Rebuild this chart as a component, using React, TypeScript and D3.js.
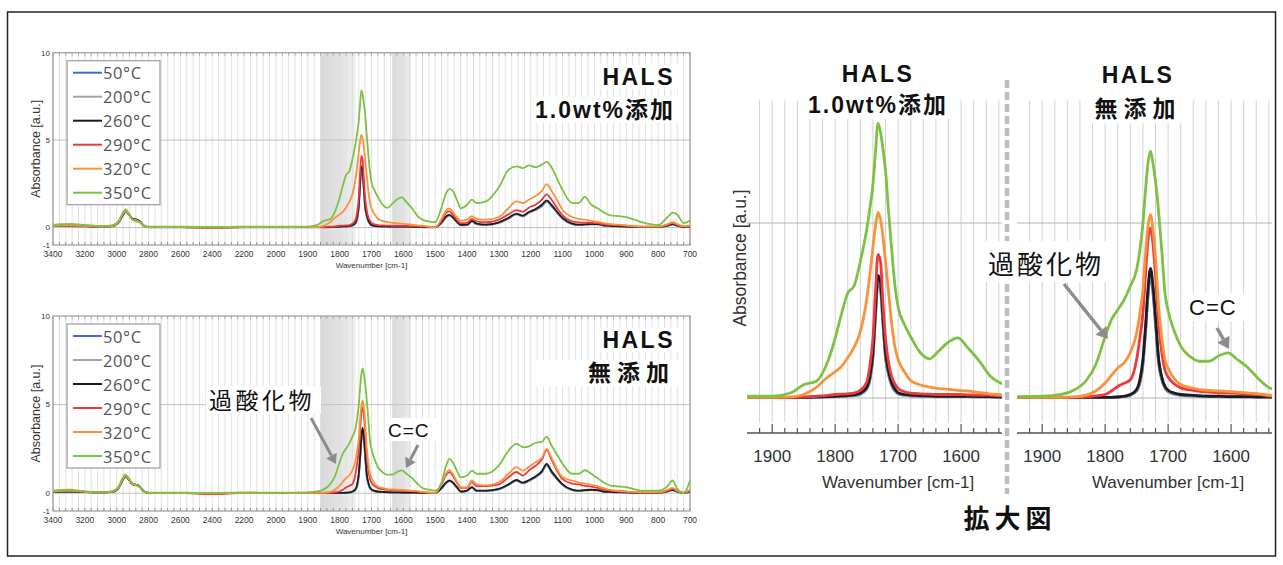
import React from 'react';
import * as d3 from 'd3';

// wavenumber grid [cm-1] shared by every spectrum
const wavenumbers = [
  3400, 3300, 3200, 3100, 3030, 2990, 2960, 2945, 2925, 2900,
  2875, 2855, 2830, 2800, 2600, 2400, 2200, 2000, 1900, 1870,
  1850, 1830, 1815, 1800, 1790, 1780, 1770, 1760, 1750, 1745,
  1740, 1736, 1732, 1728, 1724, 1720, 1715, 1710, 1705, 1700,
  1690, 1680, 1665, 1650, 1635, 1620, 1605, 1590, 1570, 1555,
  1540, 1520, 1500, 1480, 1465, 1455, 1445, 1430, 1420, 1400,
  1385, 1370, 1340, 1300, 1270, 1245, 1225, 1205, 1185, 1165,
  1150, 1135, 1115, 1100, 1070, 1050, 1030, 1010, 990, 970,
  950, 920, 900, 850, 800, 770, 755, 740, 720, 700,
];

const tempLabels = ['50°C', '200°C', '260°C', '290°C', '320°C', '350°C'];
const tempColors = ['#3d6fc6', '#a3a3a3', '#1c1c1c', '#ec3a3d', '#f7943b', '#7cc244'];

// HALS 1.0wt% added
const hals10_50 = [
  0.1, 0.08, 0.06, 0.04, 0.06, 0.25, 0.72, 0.9, 0.76, 0.48,
  0.43, 0.33, 0.1, 0.01, 0.01, 0.0, 0.01, 0.01, 0.01, 0.01,
  0.01, 0.02, 0.03, 0.04, 0.05, 0.06, 0.07, 0.11, 0.25, 0.5,
  1.15, 2.3, 3.3, 3.1, 2.1, 1.15, 0.65, 0.35, 0.2, 0.12,
  0.08, 0.06, 0.05, 0.04, 0.04, 0.04, 0.04, 0.04, 0.03, 0.03,
  0.02, 0.01, 0.01, 0.27, 0.6, 0.68, 0.56, 0.27, 0.13, 0.14,
  0.35, 0.2, 0.15, 0.27, 0.5, 0.75, 0.63, 0.85, 1.0, 1.22,
  1.48, 1.22, 0.8, 0.5, 0.2, 0.15, 0.16, 0.18, 0.18, 0.11,
  0.08, 0.06, 0.04, 0.02, 0.02, 0.1, 0.18, 0.1, 0.02, 0.04,
];
const hals10_200 = [
  0.09, 0.09, 0.07, 0.05, 0.07, 0.27, 0.74, 0.91, 0.77, 0.49,
  0.44, 0.34, 0.11, 0.02, 0.02, 0.0, 0.02, 0.02, 0.02, 0.02,
  0.02, 0.03, 0.04, 0.05, 0.05, 0.06, 0.08, 0.12, 0.28, 0.55,
  1.2, 2.4, 3.4, 3.2, 2.2, 1.2, 0.7, 0.38, 0.22, 0.13,
  0.09, 0.07, 0.06, 0.05, 0.05, 0.05, 0.05, 0.05, 0.04, 0.04,
  0.03, 0.02, 0.02, 0.28, 0.62, 0.7, 0.58, 0.28, 0.14, 0.15,
  0.36, 0.21, 0.16, 0.28, 0.52, 0.77, 0.65, 0.87, 1.02, 1.26,
  1.5, 1.26, 0.82, 0.52, 0.21, 0.16, 0.17, 0.19, 0.19, 0.12,
  0.09, 0.06, 0.04, 0.02, 0.02, 0.11, 0.19, 0.11, 0.02, 0.04,
];
const hals10_260 = [
  0.08, 0.1, 0.08, 0.05, 0.08, 0.28, 0.75, 0.92, 0.78, 0.5,
  0.45, 0.35, 0.12, 0.02, 0.02, 0.0, 0.02, 0.02, 0.02, 0.02,
  0.02, 0.03, 0.04, 0.05, 0.06, 0.07, 0.09, 0.14, 0.3, 0.6,
  1.3, 2.5, 3.5, 3.3, 2.3, 1.3, 0.75, 0.42, 0.25, 0.15,
  0.1, 0.08, 0.07, 0.06, 0.05, 0.05, 0.05, 0.05, 0.04, 0.04,
  0.03, 0.02, 0.02, 0.3, 0.65, 0.72, 0.6, 0.3, 0.15, 0.16,
  0.38, 0.22, 0.17, 0.3, 0.55, 0.8, 0.68, 0.9, 1.05, 1.3,
  1.55, 1.3, 0.85, 0.55, 0.22, 0.17, 0.18, 0.2, 0.2, 0.13,
  0.1, 0.07, 0.05, 0.03, 0.03, 0.12, 0.2, 0.12, 0.03, 0.05,
];
const hals10_290 = [
  0.1, 0.1, 0.08, 0.05, 0.08, 0.3, 0.8, 0.95, 0.78, 0.45,
  0.42, 0.32, 0.1, 0.02, 0.02, 0.0, 0.02, 0.02, 0.02, 0.02,
  0.03, 0.05, 0.07, 0.1, 0.11, 0.12, 0.14, 0.22, 0.45, 0.9,
  1.7, 3.0, 4.1, 3.9, 2.7, 1.7, 1.0, 0.6, 0.4, 0.27,
  0.18, 0.14, 0.12, 0.11, 0.1, 0.1, 0.1, 0.09, 0.08, 0.08,
  0.06, 0.03, 0.02, 0.4, 0.85, 0.92, 0.75, 0.4, 0.25, 0.27,
  0.5, 0.35, 0.3, 0.45, 0.75, 1.0, 0.9, 1.15, 1.3, 1.6,
  1.9, 1.6, 1.05, 0.7, 0.35, 0.3, 0.28, 0.27, 0.25, 0.18,
  0.15, 0.12, 0.1, 0.05, 0.05, 0.15, 0.25, 0.15, 0.05, 0.1,
];
const hals10_320 = [
  0.1, 0.12, 0.1, 0.05, 0.1, 0.3, 0.8, 0.95, 0.78, 0.45,
  0.4, 0.3, 0.1, 0.02, 0.02, 0.0, 0.02, 0.02, 0.02, 0.03,
  0.1, 0.3, 0.55, 0.75, 0.9, 1.15, 1.45, 1.9, 2.8, 3.5,
  4.3, 4.9, 5.3, 5.1, 4.6, 3.9, 3.0, 2.1, 1.46, 1.1,
  0.75, 0.5, 0.38, 0.31, 0.27, 0.25, 0.22, 0.2, 0.15, 0.12,
  0.1, 0.05, 0.02, 0.5, 1.0, 1.1, 0.9, 0.55, 0.4, 0.45,
  0.65, 0.5, 0.45, 0.6, 1.1, 1.5, 1.4, 1.6, 1.8, 2.1,
  2.48, 2.1, 1.5, 1.0, 0.6, 0.5, 0.45, 0.38, 0.32, 0.25,
  0.2, 0.15, 0.12, 0.05, 0.05, 0.2, 0.3, 0.2, 0.08, 0.1,
];
const hals10_350 = [
  0.15, 0.2, 0.15, 0.08, 0.12, 0.35, 0.85, 1.05, 0.8, 0.45,
  0.35, 0.3, 0.1, 0.05, 0.05, 0.03, 0.05, 0.05, 0.05, 0.15,
  0.38, 0.48, 0.9, 1.7, 2.4, 3.0, 3.2, 3.9, 4.8, 5.4,
  6.1, 7.0, 7.85, 7.6, 7.1, 6.5, 5.3, 4.2, 3.2, 2.6,
  2.1, 1.75, 1.3, 1.12, 1.35, 1.6, 1.72, 1.45, 1.03, 0.65,
  0.45, 0.35, 0.3, 1.15, 2.0, 2.2, 2.1, 1.5, 1.1, 1.3,
  1.6, 1.4, 1.5, 2.3, 3.3, 3.5, 3.4, 3.55, 3.45, 3.6,
  3.75, 3.45, 2.7, 2.15, 1.4, 1.4, 1.75, 1.3, 1.1, 0.85,
  0.7, 0.65, 0.6, 0.3, 0.15, 0.6, 0.85, 0.75, 0.25, 0.4,
];

// no HALS
const none_50 = [
  0.1, 0.08, 0.06, 0.04, 0.06, 0.26, 0.76, 0.92, 0.78, 0.5,
  0.46, 0.36, 0.1, 0.01, 0.01, 0.0, 0.01, 0.01, 0.01, 0.01,
  0.01, 0.01, 0.01, 0.01, 0.01, 0.02, 0.04, 0.08, 0.2, 0.42,
  0.95, 1.85, 2.9, 3.5, 3.0, 2.1, 1.0, 0.52, 0.28, 0.18,
  0.11, 0.08, 0.06, 0.05, 0.04, 0.04, 0.03, 0.03, 0.03, 0.02,
  0.02, 0.01, 0.01, 0.28, 0.58, 0.68, 0.58, 0.27, 0.08, 0.13,
  0.32, 0.13, 0.13, 0.22, 0.47, 0.7, 0.56, 0.7, 0.9, 1.18,
  1.58, 1.18, 0.75, 0.46, 0.18, 0.13, 0.16, 0.18, 0.16, 0.09,
  0.07, 0.05, 0.04, 0.02, 0.02, 0.1, 0.18, 0.08, 0.01, 0.08,
];
const none_200 = [
  0.09, 0.09, 0.07, 0.05, 0.07, 0.27, 0.78, 0.94, 0.79, 0.51,
  0.47, 0.37, 0.11, 0.02, 0.02, 0.0, 0.02, 0.02, 0.02, 0.02,
  0.02, 0.02, 0.02, 0.02, 0.02, 0.03, 0.05, 0.09, 0.22, 0.46,
  1.0, 1.9, 3.0, 3.6, 3.1, 2.2, 1.05, 0.56, 0.3, 0.2,
  0.12, 0.09, 0.07, 0.05, 0.05, 0.04, 0.04, 0.04, 0.03, 0.03,
  0.02, 0.02, 0.02, 0.29, 0.6, 0.7, 0.6, 0.28, 0.09, 0.14,
  0.33, 0.14, 0.14, 0.24, 0.48, 0.72, 0.58, 0.72, 0.92, 1.2,
  1.62, 1.2, 0.78, 0.48, 0.19, 0.14, 0.17, 0.19, 0.17, 0.1,
  0.08, 0.05, 0.04, 0.02, 0.02, 0.11, 0.19, 0.09, 0.02, 0.09,
];
const none_260 = [
  0.08, 0.1, 0.08, 0.05, 0.08, 0.28, 0.8, 0.95, 0.8, 0.52,
  0.48, 0.38, 0.12, 0.02, 0.02, 0.0, 0.02, 0.02, 0.02, 0.02,
  0.02, 0.02, 0.02, 0.02, 0.02, 0.03, 0.05, 0.1, 0.24, 0.5,
  1.1, 2.0, 3.1, 3.7, 3.2, 2.3, 1.1, 0.6, 0.33, 0.22,
  0.14, 0.1, 0.08, 0.06, 0.05, 0.05, 0.04, 0.04, 0.04, 0.03,
  0.03, 0.02, 0.02, 0.3, 0.62, 0.72, 0.62, 0.3, 0.1, 0.15,
  0.35, 0.15, 0.15, 0.25, 0.5, 0.75, 0.6, 0.75, 0.95, 1.25,
  1.66, 1.25, 0.8, 0.5, 0.2, 0.15, 0.18, 0.2, 0.18, 0.1,
  0.08, 0.06, 0.05, 0.03, 0.03, 0.12, 0.2, 0.1, 0.02, 0.1,
];
const none_290 = [
  0.1, 0.12, 0.08, 0.05, 0.08, 0.3, 0.82, 0.98, 0.8, 0.5,
  0.45, 0.35, 0.12, 0.02, 0.02, -0.05, 0.02, 0.02, 0.02, 0.02,
  0.02, 0.03, 0.06, 0.1, 0.2, 0.33, 0.42, 0.52, 1.1, 1.7,
  2.43, 3.5, 4.5, 4.86, 4.4, 3.5, 2.1, 1.3, 0.8, 0.6,
  0.4, 0.29, 0.23, 0.19, 0.17, 0.15, 0.14, 0.13, 0.11, 0.1,
  0.06, 0.03, 0.02, 0.5, 1.05, 1.19, 1.0, 0.55, 0.3, 0.3,
  0.65, 0.4, 0.4, 0.5, 0.9, 1.2, 1.0, 1.3, 1.55, 1.9,
  2.45, 1.9, 1.2, 0.8, 0.55, 0.5, 0.42, 0.38, 0.3, 0.2,
  0.15, 0.1, 0.08, 0.04, 0.04, 0.15, 0.25, 0.12, 0.02, 0.15,
];
const none_320 = [
  0.1, 0.15, 0.1, 0.05, 0.1, 0.3, 0.85, 1.0, 0.82, 0.52,
  0.45, 0.35, 0.12, 0.02, 0.02, 0.0, 0.02, 0.02, 0.02, 0.02,
  0.03, 0.08, 0.2, 0.43, 0.65, 0.86, 1.0, 1.3, 1.86, 2.4,
  3.1, 4.1, 4.9, 5.24, 4.8, 4.0, 2.6, 1.7, 1.1, 0.85,
  0.55, 0.38, 0.3, 0.24, 0.22, 0.2, 0.19, 0.17, 0.14, 0.12,
  0.08, 0.04, 0.03, 0.55, 1.15, 1.3, 1.1, 0.6, 0.34, 0.35,
  0.72, 0.5, 0.45, 0.62, 1.1, 1.47, 1.28, 1.5, 1.75, 2.0,
  2.5, 2.0, 1.3, 0.9, 0.72, 0.62, 0.55, 0.48, 0.4, 0.28,
  0.19, 0.13, 0.1, 0.05, 0.05, 0.2, 0.3, 0.15, 0.05, 0.2,
];
const none_350 = [
  0.15, 0.2, 0.1, 0.05, 0.1, 0.35, 0.9, 1.05, 0.85, 0.55,
  0.45, 0.35, 0.12, 0.03, 0.03, 0.02, 0.05, 0.03, 0.05, 0.1,
  0.22, 0.5, 0.95, 1.76, 2.24, 2.52, 2.8, 3.2, 3.67, 4.2,
  5.0, 5.9, 6.7, 7.05, 6.7, 6.2, 5.3, 4.2, 3.0, 2.5,
  1.9, 1.48, 1.18, 1.05, 1.05, 1.2, 1.29, 1.1, 0.81, 0.52,
  0.3, 0.2, 0.15, 0.62, 1.6, 1.94, 1.75, 1.2, 0.9, 1.0,
  1.28, 1.1, 1.1, 1.57, 2.4, 2.8, 2.6, 2.65, 2.85, 2.9,
  3.2, 2.7, 2.1, 1.66, 1.1, 1.1, 1.3, 1.1, 0.85, 0.6,
  0.43, 0.38, 0.34, 0.15, 0.15, 0.4, 0.72, 0.25, 0.0, 0.72,
];

const withHals = [hals10_50, hals10_200, hals10_260, hals10_290, hals10_320, hals10_350];
const withoutHals = [none_50, none_200, none_260, none_290, none_320, none_350];

const mainXTicks = [3400, 3200, 3000, 2800, 2600, 2400, 2200, 2000, 1900, 1800, 1700, 1600, 1500, 1400, 1300, 1200, 1100, 1000, 900, 800, 700];
const mainYTicks = [-1, 0, 5, 10];
const zoomXTicks = [1900, 1800, 1700, 1600];
const shadedBands = [[1860, 1750], [1635, 1575]];

const SANS = "'Liberation Sans', Arial, sans-serif";
const JP = "'Liberation Sans', 'Noto Sans CJK JP', sans-serif";
const ARROW = '#8c8c8c';

function Arrow({ x1, y1, x2, y2, w }) {
  const a = Math.atan2(y2 - y1, x2 - x1);
  const hl = w * 3.2, hw = w * 2;
  const bx = x2 - hl * Math.cos(a), by = y2 - hl * Math.sin(a);
  const px = -Math.sin(a) * hw, py = Math.cos(a) * hw;
  return (
    <g>
      <line x1={x1} y1={y1} x2={bx} y2={by} stroke={ARROW} strokeWidth={w} />
      <polygon points={`${x2},${y2} ${bx + px},${by + py} ${bx - px},${by - py}`} fill={ARROW} />
    </g>
  );
}

function MainPanel({ top, bottom, series, title, sub, subSpacing }) {
  const left = 53, right = 690;
  const u = (right - left) / 20;
  const x = d3.scaleLinear().domain([3400, 2000, 700]).range([left, left + 7 * u, right]);
  const y = d3.scaleLinear().domain([-1, 10]).range([bottom, top]);
  const minor = [...d3.range(3400, 2000, -40), ...d3.range(2000, 699, -20)];
  const line = d3.line<number>()
    .defined(v => v != null)
    .x((_, i) => x(wavenumbers[i]))
    .y(v => y(v))
    .curve(d3.curveMonotoneX);

  return (
    <g>
      {shadedBands.map(([a, b], i) => (
        <rect key={i} x={x(a)} y={top} width={x(b) - x(a)} height={bottom - top} fill="url(#bandGrad)" />
      ))}
      {minor.map(w => (
        <line key={w} x1={x(w)} x2={x(w)} y1={top} y2={bottom} stroke="#dedede" strokeWidth={0.9} />
      ))}
      {[0, 5].map(v => (
        <line key={v} x1={left} x2={right} y1={y(v)} y2={y(v)} stroke="#c2c2c2" strokeWidth={1} />
      ))}
      {minor.map(w => (
        <g key={'t' + w}>
          <line x1={x(w)} x2={x(w)} y1={bottom} y2={bottom - 3} stroke="#777" strokeWidth={0.8} />
          <line x1={x(w)} x2={x(w)} y1={top} y2={top + 3} stroke="#999" strokeWidth={0.8} />
        </g>
      ))}
      <rect x={left} y={top} width={right - left} height={bottom - top} fill="none" stroke="#9a9a9a" strokeWidth={1.2} />

      {/* title box */}
      <rect x={598} y={top + 12} width={82} height={24} fill="#fff" />
      <rect x={532} y={top + 44} width={148} height={26} fill="#fff" />
      <text x={675} y={top + 32} textAnchor="end" fontFamily={SANS} fontWeight="bold" fontSize={23} letterSpacing={2.5} fill="#111">{title}</text>
      <text x={675} y={top + 65} textAnchor="end" fontFamily={JP} fontWeight="bold" fontSize={23} letterSpacing={subSpacing} fill="#111">{sub}</text>

      {series.map((s, i) => (
        <path key={i} d={line(s) || ''} fill="none" stroke={tempColors[i]} strokeWidth={1.8} strokeLinejoin="round" />
      ))}

      {/* legend */}
      <rect x={67} y={top + 8} width={93} height={144} fill="#fff" stroke="#9c9c9c" strokeWidth={1.2} />
      {tempLabels.map((t, i) => {
        const ly = top + 20 + i * 24;
        return (
          <g key={t}>
            <line x1={73} x2={102} y1={ly} y2={ly} stroke={tempColors[i]} strokeWidth={2} />
            <text x={103} y={ly} dominantBaseline="central" fontFamily="'Open Sans', sans-serif" fontSize={16.5} letterSpacing={0.6} fill="#555">{t}</text>
          </g>
        );
      })}

      {/* axes text */}
      {mainYTicks.map(v => (
        <text key={v} x={50} y={y(v)} dy="0.35em" textAnchor="end" fontFamily={SANS} fontSize={8} fill="#333">{v}</text>
      ))}
      {mainXTicks.map(w => (
        <text key={w} x={x(w)} y={bottom + 12} textAnchor="middle" fontFamily={SANS} fontSize={8.5} fill="#333">{w}</text>
      ))}
      <text x={x(1700)} y={bottom + 23} textAnchor="middle" fontFamily={SANS} fontSize={8} fill="#333">Wavenumber [cm-1]</text>
      <text transform={`translate(40,${(top + bottom) / 2}) rotate(-90)`} textAnchor="middle" fontFamily={SANS} fontSize={12.5} fill="#333">Absorbance [a.u.]</text>
    </g>
  );
}

function ZoomPanel({ id, left, right, series, title, sub, subSpacing, titleX, titleY, subY, subBox }) {
  const x = d3.scaleLinear().domain([1940, 1535]).range([left, right]);
  const y = d3.scaleLinear().domain([0, 5]).range([398, 223]);
  const axisY = 433;
  const grid = d3.range(1920, 1535, -20);
  const line = d3.line<number>()
    .defined(v => v != null)
    .x((_, i) => x(wavenumbers[i]))
    .y(v => y(v))
    .curve(d3.curveMonotoneX);

  return (
    <g>
      <defs>
        <clipPath id={id}>
          <rect x={left} y={y(8.6)} width={right - left} height={axisY - 3 - y(8.6)} />
        </clipPath>
      </defs>
      {grid.map(w => (
        <line key={w} x1={x(w)} x2={x(w)} y1={y(8.5)} y2={y(-0.7)} stroke="#d2d2d2" strokeWidth={1} />
      ))}
      {[0, 5].map(v => (
        <line key={v} x1={left} x2={right} y1={y(v)} y2={y(v)} stroke="#b4b4b4" strokeWidth={1.2} />
      ))}
      <line x1={left} x2={right} y1={axisY} y2={axisY} stroke="#555" strokeWidth={1.5} />
      {grid.map(w => (
        <line key={'t' + w} x1={x(w)} x2={x(w)} y1={axisY} y2={axisY - (w % 100 === 0 ? 9 : 5)} stroke="#555" strokeWidth={1.2} />
      ))}
      <g clipPath={`url(#${id})`}>
        {series.map((s, i) => (
          <path key={i} d={line(s) || ''} fill="none" stroke={tempColors[i]} strokeWidth={2.8} strokeLinejoin="round" />
        ))}
      </g>
      {zoomXTicks.map(w => (
        <text key={w} x={x(w)} y={462} textAnchor="middle" fontFamily={SANS} fontSize={17} fill="#333">{w}</text>
      ))}
      <text x={x(1700)} y={488} textAnchor="middle" fontFamily={SANS} fontSize={17} fill="#333">Wavenumber [cm-1]</text>

      <rect x={subBox[0]} y={subY - 20} width={subBox[1]} height={26} fill="#fff" />
      <text x={titleX} y={titleY} textAnchor="middle" fontFamily={SANS} fontWeight="bold" fontSize={23} letterSpacing={2.5} fill="#111">{title}</text>
      <text x={titleX} y={subY} textAnchor="middle" fontFamily={JP} fontWeight="bold" fontSize={23} letterSpacing={subSpacing} fill="#111">{sub}</text>
    </g>
  );
}

export default function App() {
  return (
    <svg width={1283} height={565} viewBox="0 0 1283 565" style={{ position: 'absolute', left: 0, top: 0, background: '#fff' }}>
      <defs>
        <linearGradient id="bandGrad" x1="0" x2="1" y1="0" y2="0">
          <stop offset="0%" stopColor="#d9d9d9" />
          <stop offset="60%" stopColor="#e4e4e4" />
          <stop offset="100%" stopColor="#efefef" />
        </linearGradient>
      </defs>
      <rect x={0} y={0} width={1283} height={565} fill="#fff" />
      <rect x={7.5} y={12} width={1268} height={544} fill="none" stroke="#222" strokeWidth={1.5} />

      <MainPanel top={52.7} bottom={245} series={withHals} title="HALS" sub="1.0wt%添加" subSpacing={2} />
      <MainPanel top={316} bottom={511} series={withoutHals} title="HALS" sub="無添加" subSpacing={6} />

      {/* annotations on the lower main panel */}
      <rect x={206} y={386} width={115} height={28} fill="#fff" />
      <text x={209} y={409} fontFamily={JP} fontSize={23} letterSpacing={3.5} fill="#111">過酸化物</text>
      <Arrow x1={311} y1={418} x2={336} y2={464} w={3} />
      <rect x={385} y={418} width={53} height={23} fill="#fff" />
      <text x={388} y={437} fontFamily={SANS} fontSize={19} letterSpacing={1} fill="#111">C=C</text>
      <Arrow x1={418} y1={445} x2={406} y2={468} w={3} />

      {/* enlarged views */}
      <ZoomPanel id="zl" left={747} right={1002} series={withHals} title="HALS" sub="1.0wt%添加" subSpacing={2}
        titleX={878} titleY={82} subY={113} subBox={[805, 148]} />
      <ZoomPanel id="zr" left={1017} right={1272} series={withoutHals} title="HALS" sub="無添加" subSpacing={6}
        titleX={1138} titleY={83} subY={117} subBox={[1088, 100]} />
      <text transform="translate(746,258) rotate(-90)" textAnchor="middle" fontFamily={SANS} fontSize={17.5} fill="#333">Absorbance [a.u.]</text>

      <line x1={1007} x2={1007} y1={80} y2={494} stroke="#bdbdbd" strokeWidth={4.5} strokeDasharray="8 4" />

      <rect x={985} y={241} width={124} height={41} fill="#fff" />
      <text x={988} y={274} fontFamily={JP} fontSize={26} letterSpacing={3} fill="#111">過酸化物</text>
      <Arrow x1={1064} y1={284} x2={1108} y2={339} w={3.5} />
      <rect x={1186} y={293} width={62} height={28} fill="#fff" />
      <text x={1189} y={315} fontFamily={SANS} fontSize={22} letterSpacing={1} fill="#111">C=C</text>
      <Arrow x1={1217} y1={328} x2={1229} y2={349} w={3.5} />

      <text x={1010} y={528} textAnchor="middle" fontFamily={JP} fontWeight="bold" fontSize={26} letterSpacing={5} fill="#111">拡大図</text>
    </svg>
  );
}
